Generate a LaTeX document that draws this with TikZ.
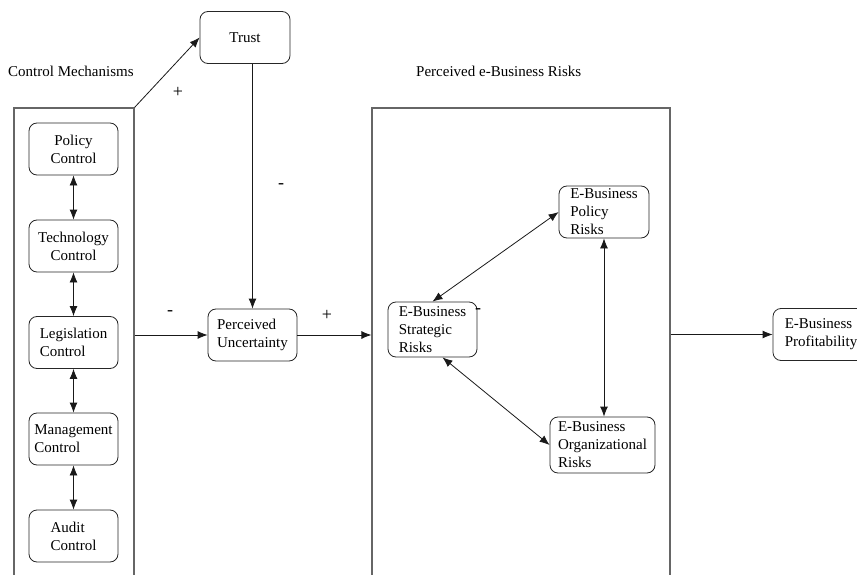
\documentclass[tikz,border=0pt]{standalone}
\usepackage{fontspec}
\setmainfont{Liberation Serif}
\usetikzlibrary{arrows.meta}
\tikzset{
    model-box/.style = {draw=black!85, fill=white, line width=0.8pt, rectangle, rounded corners=8pt, inner sep=2pt, minimum width=89pt, minimum height=52pt, font=\fontsize{15}{18}\selectfont},
    group-frame/.style = {draw=black!60, line width=1.2pt, rectangle, minimum width=#1, minimum height=482pt, inner sep=0pt},
    group-title/.style = {anchor=west, inner sep=0pt, font=\fontsize{15}{17}\selectfont},
    sign/.style = {inner sep=0pt, font=\fontsize{18}{18}\selectfont},
    link/.style = {draw=black!90, line width=0.8pt, -{Latex[length=10pt,width=8pt]}},
    both-link/.style = {draw=black!90, line width=0.8pt, {Latex[length=10pt,width=8pt]}-{Latex[length=10pt,width=8pt]}},
}
\begin{document}
\begin{tikzpicture}[x=1pt, y=-1pt]
\useasboundingbox (0,0) rectangle (857,575);

% group frames
\node[group-frame=120pt] (ctrl) at (74,349) {};
\node[group-frame=298pt] (risks) at (521,349) {};
\node[group-title] (ctrltitle) at (8,71) {Control Mechanisms};
\node[group-title] (riskstitle) at (416,71) {Perceived e-Business Risks};

% control mechanisms
\node[model-box, align=center] (policy) at (73.5,149) {Policy\\Control};
\node[model-box, align=center] (tech) at (73.5,246) {Technology\\Control};
\node[model-box, align=left] (legis) at (73.5,342.5) {Legislation\\Control};
\node[model-box, align=left] (mgmt) at (73.5,439) {Management\\Control};
\node[model-box, align=left] (audit) at (73.5,536) {Audit\\Control};

% trust and uncertainty
\node[model-box, minimum width=90pt] (trust) at (245,37.5) {Trust};
\node[model-box, align=left] (unc) at (252.5,335) {Perceived\\Uncertainty};

% e-business risks
\node[model-box, align=left, minimum height=55pt] (strat) at (432.5,329.5) {E-Business\\Strategic\\Risks};
\node[model-box, align=left, minimum width=90pt] (polrisk) at (604,212) {E-Business\\Policy\\Risks};
\node[model-box, align=left, minimum width=105pt, minimum height=56pt] (orgrisk) at (602.5,445) {E-Business\\Organizational\\Risks};
\node[model-box, align=left, minimum width=96pt] (profit) at (821,334.5) {E-Business\\Profitability};

% links between controls
\draw[both-link] (policy) -- (tech);
\draw[both-link] (tech) -- (legis);
\draw[both-link] (legis) -- (mgmt);
\draw[both-link] (mgmt) -- (audit);

% main paths
\draw[link] (ctrl.north east) -- (trust.west);
\draw[link] (trust.south -| unc.north) -- (unc.north);
\draw[link] (ctrl.east |- unc) -- (unc);
\draw[link] (unc) -- (risks.west |- unc);
\draw[link] (risks.east |- profit) -- (profit.west);

% links between risks
\draw[both-link] (strat.north) -- (polrisk.west);
\draw[both-link] (polrisk.south) -- (polrisk.south |- orgrisk.north);
\draw[both-link] ([xshift=10pt]strat.south) -- (orgrisk.west);

% signs
\node[sign] (plustrust) at (178,92) {+};
\node[sign] (minustrust) at (281,186) {-};
\node[sign] (minusctrl) at (170,313) {-};
\node[sign] (plusunc) at (327,315) {+};
\node[sign] (minusstrat) at (478,311) {-};
\end{tikzpicture}
\end{document}
